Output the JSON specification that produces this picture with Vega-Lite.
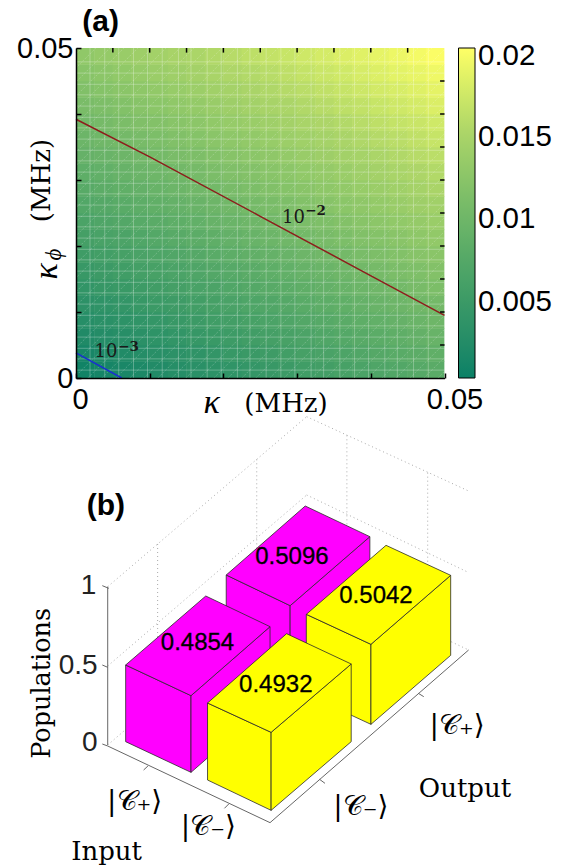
{"$schema":"https://vega.github.io/schema/vega-lite/v6.json","padding":{"left":16,"top":6,"right":0,"bottom":0},"autosize":{"type":"pad"},"background":"white","bounds":"flush","spacing":32,"config":{"view":{"stroke":null}},
"datasets":{
"heat":[
{"k":0.00125,"p":0.00125,"v":0.0005},{"k":0.00375,"p":0.00125,"v":0.0009},{"k":0.00625,"p":0.00125,"v":0.0013},{"k":0.00875,"p":0.00125,"v":0.0016},{"k":0.01125,"p":0.00125,"v":0.002},{"k":0.01375,"p":0.00125,"v":0.0024},{"k":0.01625,"p":0.00125,"v":0.0028},{"k":0.01875,"p":0.00125,"v":0.0032},{"k":0.02125,"p":0.00125,"v":0.0035},{"k":0.02375,"p":0.00125,"v":0.0039},{"k":0.02625,"p":0.00125,"v":0.0043},{"k":0.02875,"p":0.00125,"v":0.0047},{"k":0.03125,"p":0.00125,"v":0.0051},{"k":0.03375,"p":0.00125,"v":0.0054},{"k":0.03625,"p":0.00125,"v":0.0058},{"k":0.03875,"p":0.00125,"v":0.0062},{"k":0.04125,"p":0.00125,"v":0.0066},{"k":0.04375,"p":0.00125,"v":0.0069},{"k":0.04625,"p":0.00125,"v":0.0073},{"k":0.04875,"p":0.00125,"v":0.0077},
{"k":0.00125,"p":0.00375,"v":0.0011},{"k":0.00375,"p":0.00375,"v":0.0015},{"k":0.00625,"p":0.00375,"v":0.0019},{"k":0.00875,"p":0.00375,"v":0.0023},{"k":0.01125,"p":0.00375,"v":0.0027},{"k":0.01375,"p":0.00375,"v":0.003},{"k":0.01625,"p":0.00375,"v":0.0034},{"k":0.01875,"p":0.00375,"v":0.0038},{"k":0.02125,"p":0.00375,"v":0.0042},{"k":0.02375,"p":0.00375,"v":0.0045},{"k":0.02625,"p":0.00375,"v":0.0049},{"k":0.02875,"p":0.00375,"v":0.0053},{"k":0.03125,"p":0.00375,"v":0.0057},{"k":0.03375,"p":0.00375,"v":0.0061},{"k":0.03625,"p":0.00375,"v":0.0064},{"k":0.03875,"p":0.00375,"v":0.0068},{"k":0.04125,"p":0.00375,"v":0.0072},{"k":0.04375,"p":0.00375,"v":0.0076},{"k":0.04625,"p":0.00375,"v":0.0079},{"k":0.04875,"p":0.00375,"v":0.0083},
{"k":0.00125,"p":0.00625,"v":0.0018},{"k":0.00375,"p":0.00625,"v":0.0022},{"k":0.00625,"p":0.00625,"v":0.0025},{"k":0.00875,"p":0.00625,"v":0.0029},{"k":0.01125,"p":0.00625,"v":0.0033},{"k":0.01375,"p":0.00625,"v":0.0037},{"k":0.01625,"p":0.00625,"v":0.0041},{"k":0.01875,"p":0.00625,"v":0.0044},{"k":0.02125,"p":0.00625,"v":0.0048},{"k":0.02375,"p":0.00625,"v":0.0052},{"k":0.02625,"p":0.00625,"v":0.0056},{"k":0.02875,"p":0.00625,"v":0.0059},{"k":0.03125,"p":0.00625,"v":0.0063},{"k":0.03375,"p":0.00625,"v":0.0067},{"k":0.03625,"p":0.00625,"v":0.0071},{"k":0.03875,"p":0.00625,"v":0.0075},{"k":0.04125,"p":0.00625,"v":0.0078},{"k":0.04375,"p":0.00625,"v":0.0082},{"k":0.04625,"p":0.00625,"v":0.0086},{"k":0.04875,"p":0.00625,"v":0.009},
{"k":0.00125,"p":0.00875,"v":0.0024},{"k":0.00375,"p":0.00875,"v":0.0028},{"k":0.00625,"p":0.00875,"v":0.0032},{"k":0.00875,"p":0.00875,"v":0.0035},{"k":0.01125,"p":0.00875,"v":0.0039},{"k":0.01375,"p":0.00875,"v":0.0043},{"k":0.01625,"p":0.00875,"v":0.0047},{"k":0.01875,"p":0.00875,"v":0.0051},{"k":0.02125,"p":0.00875,"v":0.0054},{"k":0.02375,"p":0.00875,"v":0.0058},{"k":0.02625,"p":0.00875,"v":0.0062},{"k":0.02875,"p":0.00875,"v":0.0066},{"k":0.03125,"p":0.00875,"v":0.007},{"k":0.03375,"p":0.00875,"v":0.0073},{"k":0.03625,"p":0.00875,"v":0.0077},{"k":0.03875,"p":0.00875,"v":0.0081},{"k":0.04125,"p":0.00875,"v":0.0085},{"k":0.04375,"p":0.00875,"v":0.0088},{"k":0.04625,"p":0.00875,"v":0.0092},{"k":0.04875,"p":0.00875,"v":0.0096},
{"k":0.00125,"p":0.01125,"v":0.0031},{"k":0.00375,"p":0.01125,"v":0.0034},{"k":0.00625,"p":0.01125,"v":0.0038},{"k":0.00875,"p":0.01125,"v":0.0042},{"k":0.01125,"p":0.01125,"v":0.0046},{"k":0.01375,"p":0.01125,"v":0.0049},{"k":0.01625,"p":0.01125,"v":0.0053},{"k":0.01875,"p":0.01125,"v":0.0057},{"k":0.02125,"p":0.01125,"v":0.0061},{"k":0.02375,"p":0.01125,"v":0.0065},{"k":0.02625,"p":0.01125,"v":0.0068},{"k":0.02875,"p":0.01125,"v":0.0072},{"k":0.03125,"p":0.01125,"v":0.0076},{"k":0.03375,"p":0.01125,"v":0.008},{"k":0.03625,"p":0.01125,"v":0.0083},{"k":0.03875,"p":0.01125,"v":0.0087},{"k":0.04125,"p":0.01125,"v":0.0091},{"k":0.04375,"p":0.01125,"v":0.0095},{"k":0.04625,"p":0.01125,"v":0.0099},{"k":0.04875,"p":0.01125,"v":0.0102},
{"k":0.00125,"p":0.01375,"v":0.0037},{"k":0.00375,"p":0.01375,"v":0.0041},{"k":0.00625,"p":0.01375,"v":0.0044},{"k":0.00875,"p":0.01375,"v":0.0048},{"k":0.01125,"p":0.01375,"v":0.0052},{"k":0.01375,"p":0.01375,"v":0.0056},{"k":0.01625,"p":0.01375,"v":0.006},{"k":0.01875,"p":0.01375,"v":0.0063},{"k":0.02125,"p":0.01375,"v":0.0067},{"k":0.02375,"p":0.01375,"v":0.0071},{"k":0.02625,"p":0.01375,"v":0.0075},{"k":0.02875,"p":0.01375,"v":0.0078},{"k":0.03125,"p":0.01375,"v":0.0082},{"k":0.03375,"p":0.01375,"v":0.0086},{"k":0.03625,"p":0.01375,"v":0.009},{"k":0.03875,"p":0.01375,"v":0.0094},{"k":0.04125,"p":0.01375,"v":0.0097},{"k":0.04375,"p":0.01375,"v":0.0101},{"k":0.04625,"p":0.01375,"v":0.0105},{"k":0.04875,"p":0.01375,"v":0.0109},
{"k":0.00125,"p":0.01625,"v":0.0043},{"k":0.00375,"p":0.01625,"v":0.0047},{"k":0.00625,"p":0.01625,"v":0.0051},{"k":0.00875,"p":0.01625,"v":0.0055},{"k":0.01125,"p":0.01625,"v":0.0058},{"k":0.01375,"p":0.01625,"v":0.0062},{"k":0.01625,"p":0.01625,"v":0.0066},{"k":0.01875,"p":0.01625,"v":0.007},{"k":0.02125,"p":0.01625,"v":0.0073},{"k":0.02375,"p":0.01625,"v":0.0077},{"k":0.02625,"p":0.01625,"v":0.0081},{"k":0.02875,"p":0.01625,"v":0.0085},{"k":0.03125,"p":0.01625,"v":0.0089},{"k":0.03375,"p":0.01625,"v":0.0092},{"k":0.03625,"p":0.01625,"v":0.0096},{"k":0.03875,"p":0.01625,"v":0.01},{"k":0.04125,"p":0.01625,"v":0.0104},{"k":0.04375,"p":0.01625,"v":0.0108},{"k":0.04625,"p":0.01625,"v":0.0111},{"k":0.04875,"p":0.01625,"v":0.0115},
{"k":0.00125,"p":0.01875,"v":0.005},{"k":0.00375,"p":0.01875,"v":0.0053},{"k":0.00625,"p":0.01875,"v":0.0057},{"k":0.00875,"p":0.01875,"v":0.0061},{"k":0.01125,"p":0.01875,"v":0.0065},{"k":0.01375,"p":0.01875,"v":0.0068},{"k":0.01625,"p":0.01875,"v":0.0072},{"k":0.01875,"p":0.01875,"v":0.0076},{"k":0.02125,"p":0.01875,"v":0.008},{"k":0.02375,"p":0.01875,"v":0.0084},{"k":0.02625,"p":0.01875,"v":0.0087},{"k":0.02875,"p":0.01875,"v":0.0091},{"k":0.03125,"p":0.01875,"v":0.0095},{"k":0.03375,"p":0.01875,"v":0.0099},{"k":0.03625,"p":0.01875,"v":0.0102},{"k":0.03875,"p":0.01875,"v":0.0106},{"k":0.04125,"p":0.01875,"v":0.011},{"k":0.04375,"p":0.01875,"v":0.0114},{"k":0.04625,"p":0.01875,"v":0.0118},{"k":0.04875,"p":0.01875,"v":0.0121},
{"k":0.00125,"p":0.02125,"v":0.0056},{"k":0.00375,"p":0.02125,"v":0.006},{"k":0.00625,"p":0.02125,"v":0.0063},{"k":0.00875,"p":0.02125,"v":0.0067},{"k":0.01125,"p":0.02125,"v":0.0071},{"k":0.01375,"p":0.02125,"v":0.0075},{"k":0.01625,"p":0.02125,"v":0.0079},{"k":0.01875,"p":0.02125,"v":0.0082},{"k":0.02125,"p":0.02125,"v":0.0086},{"k":0.02375,"p":0.02125,"v":0.009},{"k":0.02625,"p":0.02125,"v":0.0094},{"k":0.02875,"p":0.02125,"v":0.0098},{"k":0.03125,"p":0.02125,"v":0.0101},{"k":0.03375,"p":0.02125,"v":0.0105},{"k":0.03625,"p":0.02125,"v":0.0109},{"k":0.03875,"p":0.02125,"v":0.0113},{"k":0.04125,"p":0.02125,"v":0.0116},{"k":0.04375,"p":0.02125,"v":0.012},{"k":0.04625,"p":0.02125,"v":0.0124},{"k":0.04875,"p":0.02125,"v":0.0128},
{"k":0.00125,"p":0.02375,"v":0.0062},{"k":0.00375,"p":0.02375,"v":0.0066},{"k":0.00625,"p":0.02375,"v":0.007},{"k":0.00875,"p":0.02375,"v":0.0074},{"k":0.01125,"p":0.02375,"v":0.0077},{"k":0.01375,"p":0.02375,"v":0.0081},{"k":0.01625,"p":0.02375,"v":0.0085},{"k":0.01875,"p":0.02375,"v":0.0089},{"k":0.02125,"p":0.02375,"v":0.0092},{"k":0.02375,"p":0.02375,"v":0.0096},{"k":0.02625,"p":0.02375,"v":0.01},{"k":0.02875,"p":0.02375,"v":0.0104},{"k":0.03125,"p":0.02375,"v":0.0108},{"k":0.03375,"p":0.02375,"v":0.0111},{"k":0.03625,"p":0.02375,"v":0.0115},{"k":0.03875,"p":0.02375,"v":0.0119},{"k":0.04125,"p":0.02375,"v":0.0123},{"k":0.04375,"p":0.02375,"v":0.0127},{"k":0.04625,"p":0.02375,"v":0.013},{"k":0.04875,"p":0.02375,"v":0.0134},
{"k":0.00125,"p":0.02625,"v":0.0069},{"k":0.00375,"p":0.02625,"v":0.0072},{"k":0.00625,"p":0.02625,"v":0.0076},{"k":0.00875,"p":0.02625,"v":0.008},{"k":0.01125,"p":0.02625,"v":0.0084},{"k":0.01375,"p":0.02625,"v":0.0087},{"k":0.01625,"p":0.02625,"v":0.0091},{"k":0.01875,"p":0.02625,"v":0.0095},{"k":0.02125,"p":0.02625,"v":0.0099},{"k":0.02375,"p":0.02625,"v":0.0103},{"k":0.02625,"p":0.02625,"v":0.0106},{"k":0.02875,"p":0.02625,"v":0.011},{"k":0.03125,"p":0.02625,"v":0.0114},{"k":0.03375,"p":0.02625,"v":0.0118},{"k":0.03625,"p":0.02625,"v":0.0122},{"k":0.03875,"p":0.02625,"v":0.0125},{"k":0.04125,"p":0.02625,"v":0.0129},{"k":0.04375,"p":0.02625,"v":0.0133},{"k":0.04625,"p":0.02625,"v":0.0137},{"k":0.04875,"p":0.02625,"v":0.014},
{"k":0.00125,"p":0.02875,"v":0.0075},{"k":0.00375,"p":0.02875,"v":0.0079},{"k":0.00625,"p":0.02875,"v":0.0083},{"k":0.00875,"p":0.02875,"v":0.0086},{"k":0.01125,"p":0.02875,"v":0.009},{"k":0.01375,"p":0.02875,"v":0.0094},{"k":0.01625,"p":0.02875,"v":0.0098},{"k":0.01875,"p":0.02875,"v":0.0101},{"k":0.02125,"p":0.02875,"v":0.0105},{"k":0.02375,"p":0.02875,"v":0.0109},{"k":0.02625,"p":0.02875,"v":0.0113},{"k":0.02875,"p":0.02875,"v":0.0117},{"k":0.03125,"p":0.02875,"v":0.012},{"k":0.03375,"p":0.02875,"v":0.0124},{"k":0.03625,"p":0.02875,"v":0.0128},{"k":0.03875,"p":0.02875,"v":0.0132},{"k":0.04125,"p":0.02875,"v":0.0135},{"k":0.04375,"p":0.02875,"v":0.0139},{"k":0.04625,"p":0.02875,"v":0.0143},{"k":0.04875,"p":0.02875,"v":0.0147},
{"k":0.00125,"p":0.03125,"v":0.0081},{"k":0.00375,"p":0.03125,"v":0.0085},{"k":0.00625,"p":0.03125,"v":0.0089},{"k":0.00875,"p":0.03125,"v":0.0093},{"k":0.01125,"p":0.03125,"v":0.0096},{"k":0.01375,"p":0.03125,"v":0.01},{"k":0.01625,"p":0.03125,"v":0.0104},{"k":0.01875,"p":0.03125,"v":0.0108},{"k":0.02125,"p":0.03125,"v":0.0112},{"k":0.02375,"p":0.03125,"v":0.0115},{"k":0.02625,"p":0.03125,"v":0.0119},{"k":0.02875,"p":0.03125,"v":0.0123},{"k":0.03125,"p":0.03125,"v":0.0127},{"k":0.03375,"p":0.03125,"v":0.013},{"k":0.03625,"p":0.03125,"v":0.0134},{"k":0.03875,"p":0.03125,"v":0.0138},{"k":0.04125,"p":0.03125,"v":0.0142},{"k":0.04375,"p":0.03125,"v":0.0146},{"k":0.04625,"p":0.03125,"v":0.0149},{"k":0.04875,"p":0.03125,"v":0.0153},
{"k":0.00125,"p":0.03375,"v":0.0088},{"k":0.00375,"p":0.03375,"v":0.0091},{"k":0.00625,"p":0.03375,"v":0.0095},{"k":0.00875,"p":0.03375,"v":0.0099},{"k":0.01125,"p":0.03375,"v":0.0103},{"k":0.01375,"p":0.03375,"v":0.0107},{"k":0.01625,"p":0.03375,"v":0.011},{"k":0.01875,"p":0.03375,"v":0.0114},{"k":0.02125,"p":0.03375,"v":0.0118},{"k":0.02375,"p":0.03375,"v":0.0122},{"k":0.02625,"p":0.03375,"v":0.0125},{"k":0.02875,"p":0.03375,"v":0.0129},{"k":0.03125,"p":0.03375,"v":0.0133},{"k":0.03375,"p":0.03375,"v":0.0137},{"k":0.03625,"p":0.03375,"v":0.0141},{"k":0.03875,"p":0.03375,"v":0.0144},{"k":0.04125,"p":0.03375,"v":0.0148},{"k":0.04375,"p":0.03375,"v":0.0152},{"k":0.04625,"p":0.03375,"v":0.0156},{"k":0.04875,"p":0.03375,"v":0.0159},
{"k":0.00125,"p":0.03625,"v":0.0094},{"k":0.00375,"p":0.03625,"v":0.0098},{"k":0.00625,"p":0.03625,"v":0.0102},{"k":0.00875,"p":0.03625,"v":0.0105},{"k":0.01125,"p":0.03625,"v":0.0109},{"k":0.01375,"p":0.03625,"v":0.0113},{"k":0.01625,"p":0.03625,"v":0.0117},{"k":0.01875,"p":0.03625,"v":0.0121},{"k":0.02125,"p":0.03625,"v":0.0124},{"k":0.02375,"p":0.03625,"v":0.0128},{"k":0.02625,"p":0.03625,"v":0.0132},{"k":0.02875,"p":0.03625,"v":0.0136},{"k":0.03125,"p":0.03625,"v":0.0139},{"k":0.03375,"p":0.03625,"v":0.0143},{"k":0.03625,"p":0.03625,"v":0.0147},{"k":0.03875,"p":0.03625,"v":0.0151},{"k":0.04125,"p":0.03625,"v":0.0155},{"k":0.04375,"p":0.03625,"v":0.0158},{"k":0.04625,"p":0.03625,"v":0.0162},{"k":0.04875,"p":0.03625,"v":0.0166},
{"k":0.00125,"p":0.03875,"v":0.01},{"k":0.00375,"p":0.03875,"v":0.0104},{"k":0.00625,"p":0.03875,"v":0.0108},{"k":0.00875,"p":0.03875,"v":0.0112},{"k":0.01125,"p":0.03875,"v":0.0115},{"k":0.01375,"p":0.03875,"v":0.0119},{"k":0.01625,"p":0.03875,"v":0.0123},{"k":0.01875,"p":0.03875,"v":0.0127},{"k":0.02125,"p":0.03875,"v":0.0131},{"k":0.02375,"p":0.03875,"v":0.0134},{"k":0.02625,"p":0.03875,"v":0.0138},{"k":0.02875,"p":0.03875,"v":0.0142},{"k":0.03125,"p":0.03875,"v":0.0146},{"k":0.03375,"p":0.03875,"v":0.0149},{"k":0.03625,"p":0.03875,"v":0.0153},{"k":0.03875,"p":0.03875,"v":0.0157},{"k":0.04125,"p":0.03875,"v":0.0161},{"k":0.04375,"p":0.03875,"v":0.0165},{"k":0.04625,"p":0.03875,"v":0.0168},{"k":0.04875,"p":0.03875,"v":0.0172},
{"k":0.00125,"p":0.04125,"v":0.0107},{"k":0.00375,"p":0.04125,"v":0.011},{"k":0.00625,"p":0.04125,"v":0.0114},{"k":0.00875,"p":0.04125,"v":0.0118},{"k":0.01125,"p":0.04125,"v":0.0122},{"k":0.01375,"p":0.04125,"v":0.0126},{"k":0.01625,"p":0.04125,"v":0.0129},{"k":0.01875,"p":0.04125,"v":0.0133},{"k":0.02125,"p":0.04125,"v":0.0137},{"k":0.02375,"p":0.04125,"v":0.0141},{"k":0.02625,"p":0.04125,"v":0.0145},{"k":0.02875,"p":0.04125,"v":0.0148},{"k":0.03125,"p":0.04125,"v":0.0152},{"k":0.03375,"p":0.04125,"v":0.0156},{"k":0.03625,"p":0.04125,"v":0.016},{"k":0.03875,"p":0.04125,"v":0.0163},{"k":0.04125,"p":0.04125,"v":0.0167},{"k":0.04375,"p":0.04125,"v":0.0171},{"k":0.04625,"p":0.04125,"v":0.0175},{"k":0.04875,"p":0.04125,"v":0.0179},
{"k":0.00125,"p":0.04375,"v":0.0113},{"k":0.00375,"p":0.04375,"v":0.0117},{"k":0.00625,"p":0.04375,"v":0.0121},{"k":0.00875,"p":0.04375,"v":0.0124},{"k":0.01125,"p":0.04375,"v":0.0128},{"k":0.01375,"p":0.04375,"v":0.0132},{"k":0.01625,"p":0.04375,"v":0.0136},{"k":0.01875,"p":0.04375,"v":0.014},{"k":0.02125,"p":0.04375,"v":0.0143},{"k":0.02375,"p":0.04375,"v":0.0147},{"k":0.02625,"p":0.04375,"v":0.0151},{"k":0.02875,"p":0.04375,"v":0.0155},{"k":0.03125,"p":0.04375,"v":0.0158},{"k":0.03375,"p":0.04375,"v":0.0162},{"k":0.03625,"p":0.04375,"v":0.0166},{"k":0.03875,"p":0.04375,"v":0.017},{"k":0.04125,"p":0.04375,"v":0.0174},{"k":0.04375,"p":0.04375,"v":0.0177},{"k":0.04625,"p":0.04375,"v":0.0181},{"k":0.04875,"p":0.04375,"v":0.0185},
{"k":0.00125,"p":0.04625,"v":0.0119},{"k":0.00375,"p":0.04625,"v":0.0123},{"k":0.00625,"p":0.04625,"v":0.0127},{"k":0.00875,"p":0.04625,"v":0.0131},{"k":0.01125,"p":0.04625,"v":0.0135},{"k":0.01375,"p":0.04625,"v":0.0138},{"k":0.01625,"p":0.04625,"v":0.0142},{"k":0.01875,"p":0.04625,"v":0.0146},{"k":0.02125,"p":0.04625,"v":0.015},{"k":0.02375,"p":0.04625,"v":0.0153},{"k":0.02625,"p":0.04625,"v":0.0157},{"k":0.02875,"p":0.04625,"v":0.0161},{"k":0.03125,"p":0.04625,"v":0.0165},{"k":0.03375,"p":0.04625,"v":0.0169},{"k":0.03625,"p":0.04625,"v":0.0172},{"k":0.03875,"p":0.04625,"v":0.0176},{"k":0.04125,"p":0.04625,"v":0.018},{"k":0.04375,"p":0.04625,"v":0.0184},{"k":0.04625,"p":0.04625,"v":0.0187},{"k":0.04875,"p":0.04625,"v":0.0191},
{"k":0.00125,"p":0.04875,"v":0.0126},{"k":0.00375,"p":0.04875,"v":0.013},{"k":0.00625,"p":0.04875,"v":0.0133},{"k":0.00875,"p":0.04875,"v":0.0137},{"k":0.01125,"p":0.04875,"v":0.0141},{"k":0.01375,"p":0.04875,"v":0.0145},{"k":0.01625,"p":0.04875,"v":0.0148},{"k":0.01875,"p":0.04875,"v":0.0152},{"k":0.02125,"p":0.04875,"v":0.0156},{"k":0.02375,"p":0.04875,"v":0.016},{"k":0.02625,"p":0.04875,"v":0.0164},{"k":0.02875,"p":0.04875,"v":0.0167},{"k":0.03125,"p":0.04875,"v":0.0171},{"k":0.03375,"p":0.04875,"v":0.0175},{"k":0.03625,"p":0.04875,"v":0.0179},{"k":0.03875,"p":0.04875,"v":0.0182},{"k":0.04125,"p":0.04875,"v":0.0186},{"k":0.04375,"p":0.04875,"v":0.019},{"k":0.04625,"p":0.04875,"v":0.0194},{"k":0.04875,"p":0.04875,"v":0.0198}],
"mv":[{"m":0.0019},{"m":0.0039},{"m":0.0058},{"m":0.0078},{"m":0.0097},{"m":0.0117},{"m":0.0139},{"m":0.0156},{"m":0.0178},{"m":0.0197},{"m":0.0219},{"m":0.0236},{"m":0.0258},{"m":0.0278},{"m":0.0297},{"m":0.0319},{"m":0.0336},{"m":0.0358},{"m":0.0378},{"m":0.0397},{"m":0.0419},{"m":0.0436},{"m":0.0458},{"m":0.0478}],
"mh":[{"m":0.0012},{"m":0.0029},{"m":0.0045},{"m":0.0062},{"m":0.0079},{"m":0.0095},{"m":0.0112},{"m":0.0129},{"m":0.0145},{"m":0.0162},{"m":0.0179},{"m":0.0195},{"m":0.0212},{"m":0.0229},{"m":0.0245},{"m":0.0262},{"m":0.0279},{"m":0.0295},{"m":0.0312},{"m":0.0329},{"m":0.0345},{"m":0.0362},{"m":0.0379},{"m":0.0395},{"m":0.0412},{"m":0.0429},{"m":0.0445},{"m":0.0462},{"m":0.0479}],
"diag":[{"c":-0.044,"d":0.0008},{"c":-0.0421,"d":0.0027},{"c":-0.0402,"d":0.0046},{"c":-0.0383,"d":0.0065},{"c":-0.0364,"d":0.0084},{"c":-0.0345,"d":0.0103},{"c":-0.0326,"d":0.0122},{"c":-0.0307,"d":0.0141},{"c":-0.0288,"d":0.016},{"c":-0.0269,"d":0.0179},{"c":-0.025,"d":0.0198},{"c":-0.0231,"d":0.0217},{"c":-0.0212,"d":0.0236},{"c":-0.0193,"d":0.0255},{"c":-0.0174,"d":0.0274},{"c":-0.0155,"d":0.0293},{"c":-0.0136,"d":0.0312},{"c":-0.0117,"d":0.0331},{"c":-0.0098,"d":0.035},{"c":-0.0079,"d":0.0369},{"c":-0.006,"d":0.0388},{"c":-0.0041,"d":0.0407},{"c":-0.0022,"d":0.0426},{"c":-0.0003,"d":0.0445},{"c":0.0016,"d":0.0464},{"c":0.0035,"d":0.0483},{"c":0.0054,"d":0.0502},{"c":0.0073,"d":0.0521},{"c":0.0092,"d":0.054},{"c":0.0111,"d":0.0559},{"c":0.013,"d":0.0578},{"c":0.0149,"d":0.0597},{"c":0.0168,"d":0.0616},{"c":0.0187,"d":0.0635},{"c":0.0206,"d":0.0654},{"c":0.0225,"d":0.0673},{"c":0.0244,"d":0.0692},{"c":0.0263,"d":0.0711},{"c":0.0282,"d":0.073},{"c":0.0301,"d":0.0749},{"c":0.032,"d":0.0768},{"c":0.0339,"d":0.0787},{"c":0.0358,"d":0.0806},{"c":0.0377,"d":0.0825},{"c":0.0396,"d":0.0844},{"c":0.0415,"d":0.0863},{"c":0.0434,"d":0.0882},{"c":0.0453,"d":0.0901},{"c":0.0472,"d":0.092},{"c":0.0491,"d":0.0939}],
"ticks":[{"t":0.005},{"t":0.01},{"t":0.015},{"t":0.02},{"t":0.025},{"t":0.03},{"t":0.035},{"t":0.04},{"t":0.045}],
"cbt":[{"p":0.0125},{"p":0.025},{"p":0.0375}],
"red":[{"k":0,"p":0.0392,"i":0},{"k":0.01,"p":0.0335,"i":1},{"k":0.025,"p":0.0245,"i":2},{"k":0.0375,"p":0.017,"i":3},{"k":0.05,"p":0.0095,"i":4}],
"blue":[{"k":0,"p":0.0038,"i":0},{"k":0.0062,"p":0,"i":1}],
"faces":[
{"f":"01","c":"Input +","u":630,"v":465,"i":0},{"f":"01","c":"Input +","u":808,"v":557,"i":1},{"f":"01","c":"Input +","u":808,"v":797,"i":2},{"f":"01","c":"Input +","u":630,"v":705,"i":3},{"f":"01","c":"Input +","u":630,"v":465,"i":4},
{"f":"02","c":"Input +","u":808,"v":557,"i":0},{"f":"02","c":"Input +","u":1030,"v":350,"i":1},{"f":"02","c":"Input +","u":1030,"v":590,"i":2},{"f":"02","c":"Input +","u":808,"v":797,"i":3},{"f":"02","c":"Input +","u":808,"v":557,"i":4},
{"f":"03","c":"Input +","u":630,"v":465,"i":0},{"f":"03","c":"Input +","u":808,"v":557,"i":1},{"f":"03","c":"Input +","u":1030,"v":350,"i":2},{"f":"03","c":"Input +","u":850,"v":258,"i":3},{"f":"03","c":"Input +","u":630,"v":465,"i":4},
{"f":"04","c":"Input +","u":350,"v":735,"i":0},{"f":"04","c":"Input +","u":532,"v":827,"i":1},{"f":"04","c":"Input +","u":532,"v":1057,"i":2},{"f":"04","c":"Input +","u":350,"v":965,"i":3},{"f":"04","c":"Input +","u":350,"v":735,"i":4},
{"f":"05","c":"Input +","u":532,"v":827,"i":0},{"f":"05","c":"Input +","u":752,"v":620,"i":1},{"f":"05","c":"Input +","u":752,"v":850,"i":2},{"f":"05","c":"Input +","u":532,"v":1057,"i":3},{"f":"05","c":"Input +","u":532,"v":827,"i":4},
{"f":"06","c":"Input +","u":350,"v":735,"i":0},{"f":"06","c":"Input +","u":532,"v":827,"i":1},{"f":"06","c":"Input +","u":752,"v":620,"i":2},{"f":"06","c":"Input +","u":573,"v":528,"i":3},{"f":"06","c":"Input +","u":350,"v":735,"i":4},
{"f":"07","c":"Input -","u":853,"v":583,"i":0},{"f":"07","c":"Input -","u":1033,"v":673,"i":1},{"f":"07","c":"Input -","u":1033,"v":913,"i":2},{"f":"07","c":"Input -","u":853,"v":823,"i":3},{"f":"07","c":"Input -","u":853,"v":583,"i":4},
{"f":"08","c":"Input -","u":1033,"v":673,"i":0},{"f":"08","c":"Input -","u":1255,"v":466,"i":1},{"f":"08","c":"Input -","u":1255,"v":706,"i":2},{"f":"08","c":"Input -","u":1033,"v":913,"i":3},{"f":"08","c":"Input -","u":1033,"v":673,"i":4},
{"f":"09","c":"Input -","u":853,"v":583,"i":0},{"f":"09","c":"Input -","u":1033,"v":673,"i":1},{"f":"09","c":"Input -","u":1255,"v":466,"i":2},{"f":"09","c":"Input -","u":1075,"v":376,"i":3},{"f":"09","c":"Input -","u":853,"v":583,"i":4},
{"f":"10","c":"Input -","u":578,"v":849,"i":0},{"f":"10","c":"Input -","u":755,"v":937,"i":1},{"f":"10","c":"Input -","u":755,"v":1171,"i":2},{"f":"10","c":"Input -","u":578,"v":1080,"i":3},{"f":"10","c":"Input -","u":578,"v":849,"i":4},
{"f":"11","c":"Input -","u":755,"v":937,"i":0},{"f":"11","c":"Input -","u":978,"v":732,"i":1},{"f":"11","c":"Input -","u":978,"v":965,"i":2},{"f":"11","c":"Input -","u":755,"v":1171,"i":3},{"f":"11","c":"Input -","u":755,"v":937,"i":4},
{"f":"12","c":"Input -","u":578,"v":849,"i":0},{"f":"12","c":"Input -","u":755,"v":937,"i":1},{"f":"12","c":"Input -","u":978,"v":732,"i":2},{"f":"12","c":"Input -","u":798,"v":641,"i":3},{"f":"12","c":"Input -","u":578,"v":849,"i":4}],
"dotted":[{"u":300,"v":500,"u2":854,"v2":-10},{"u":854,"v":-10,"u2":1309,"v2":215},{"u":300,"v":738,"u2":854,"v2":225},{"u":854,"v":225,"u2":1300,"v2":455},{"u":300,"v":975,"u2":854,"v2":460},{"u":854,"v":460,"u2":1305,"v2":690},{"u":439,"v":372,"u2":439,"v2":846},{"u":715,"v":118,"u2":715,"v2":589},{"u":966,"v":46,"u2":966,"v2":517},{"u":1191,"v":158,"u2":1191,"v2":632}],
"solid":[{"u":300,"v":500,"u2":300,"v2":975},{"u":285,"v":497,"u2":303,"v2":505},{"u":285,"v":735,"u2":300,"v2":742},{"u":285,"v":972,"u2":300,"v2":978},{"u":300,"v":978,"u2":752,"v2":1208},{"u":752,"v":1208,"u2":1305,"v2":690},{"u":400,"v":1050,"u2":412,"v2":1038},{"u":625,"v":1165,"u2":637,"v2":1152},{"u":890,"v":1078,"u2":905,"v2":1090},{"u":1165,"v":820,"u2":1180,"v2":830}]
},
"vconcat":[
{"width":368.5,"height":330,
"encoding":{"x":{"type":"quantitative","scale":{"domain":[0,0.05],"nice":false,"zero":false}},"y":{"type":"quantitative","scale":{"domain":[0,0.05],"nice":false,"zero":false}}},
"layer":[
{"data":{"name":"heat"},"mark":{"type":"rect","width":18.9,"height":17,"clip":true},"encoding":{"x":{"field":"k","type":"quantitative","scale":{"domain":[0,0.05],"nice":false,"zero":false},
"axis":{"title":"(MHz)","titleFont":"DejaVu Serif","titleFontSize":26,"titleFontWeight":"normal","titleColor":"black","titleX":209.5,"titleY":25,"titleBaseline":"middle","values":[0,0.005,0.01,0.015,0.02,0.025,0.03,0.035,0.04,0.045,0.05],"labelExpr":"datum.value==0||datum.value==0.05?datum.label:''","format":".2~f","labelFont":"Liberation Sans","labelFontSize":29,"labelColor":"black","labelOverlap":false,"labelFlush":false,"labelOffset":{"condition":{"test":"datum.value==0","value":4},"value":10},"labelPadding":12,"tickSize":-5,"tickColor":"black","tickWidth":1.5,"domainColor":"black","domainWidth":1.5,"grid":false,"zindex":1}},
"y":{"field":"p","type":"quantitative","scale":{"domain":[0,0.05],"nice":false,"zero":false},
"axis":{"title":"(MHz)","titleFont":"DejaVu Serif","titleFontSize":26,"titleFontWeight":"normal","titleColor":"black","titleX":-35,"titleY":132,"titleBaseline":"middle","values":[0,0.005,0.01,0.015,0.02,0.025,0.03,0.035,0.04,0.045,0.05],"labelExpr":"datum.value==0||datum.value==0.05?datum.label:''","format":".2~f","labelFont":"Liberation Sans","labelFontSize":29,"labelColor":"black","labelOverlap":false,"labelFlush":false,"labelPadding":8,"tickSize":-5,"tickColor":"black","tickWidth":1.5,"domainColor":"black","domainWidth":1.5,"grid":false,"zindex":1}},
"color":{"field":"v","type":"quantitative","scale":{"domain":[0,0.005,0.01,0.015,0.02],"range":["#0a8066","#3f9c66","#72b868","#aed668","#ffff66"]},"legend":{"title":null,"orient":"none","legendX":382.5,"legendY":0,"direction":"vertical","gradientLength":330,"gradientThickness":16.5,"values":[0.005,0.01,0.015,0.02],"format":".3~f","labelFont":"Liberation Sans","labelFontSize":29.5,"labelColor":"black","labelOverlap":false,"labelOffset":3,"gradientStrokeColor":"black","gradientStrokeWidth":1,"encoding":{"labels":{"dy":{"condition":{"test":"datum.value>=0.02","value":-6},"value":6}}}}}}},
{"data":{"name":"mv"},"mark":{"type":"rule","stroke":"white","strokeOpacity":0.28,"strokeWidth":1},"encoding":{"x":{"field":"m"}}},
{"data":{"name":"mh"},"mark":{"type":"rule","stroke":"white","strokeOpacity":0.28,"strokeWidth":1},"encoding":{"y":{"field":"m"}}},
{"data":{"name":"diag"},"mark":{"type":"rule","stroke":"white","strokeOpacity":0.28,"strokeWidth":0.8,"strokeDash":[2,1.5],"clip":true},"encoding":{"x":{"field":"c"},"x2":{"field":"d"},"y":{"datum":0},"y2":{"datum":0.05}}},
{"data":{"name":"red"},"mark":{"type":"line","stroke":"#8e1c1c","strokeWidth":1.5},"encoding":{"x":{"field":"k"},"y":{"field":"p"},"order":{"field":"i"}}},
{"data":{"name":"blue"},"mark":{"type":"line","stroke":"#1a2fd0","strokeWidth":1.5},"encoding":{"x":{"field":"k"},"y":{"field":"p"},"order":{"field":"i"}}},
{"mark":{"type":"rule","stroke":"black","strokeWidth":1.5},"encoding":{"y":{"datum":0.05}}},
{"mark":{"type":"rule","stroke":"black","strokeWidth":1.5},"encoding":{"x":{"datum":0.05}}},
{"data":{"name":"ticks"},"mark":{"type":"rule","stroke":"black","strokeWidth":1.5},"encoding":{"x":{"field":"t"},"y":{"datum":0.05},"y2":{"datum":0.0493}}},
{"data":{"name":"ticks"},"mark":{"type":"rule","stroke":"black","strokeWidth":1.5},"encoding":{"y":{"field":"t"},"x":{"datum":0.05},"x2":{"datum":0.0494}}},
{"data":{"name":"cbt"},"mark":{"type":"rule","stroke":"black","strokeWidth":1},"encoding":{"y":{"field":"p"},"x":{"datum":0.0536},"x2":{"datum":0.0541}}},
{"data":{"values":[{"k":0.00335,"p":0.05395,"t":"(a)"}]},"mark":{"type":"text","font":"Liberation Sans","fontWeight":"bold","fontSize":30,"color":"black"},"encoding":{"x":{"field":"k"},"y":{"field":"p"},"text":{"field":"t"}}},
{"data":{"values":[{"k":0.0295,"p":0.02424,"t":"10"},{"k":0.00408,"p":0.00389,"t":"10"}]},"mark":{"type":"text","font":"DejaVu Serif","fontSize":18,"color":"#1a1a1a"},"encoding":{"x":{"field":"k"},"y":{"field":"p"},"text":{"field":"t"}}},
{"data":{"values":[{"k":0.0325,"p":0.02525,"t":"−2"},{"k":0.00714,"p":0.0047,"t":"−3"}]},"mark":{"type":"text","font":"DejaVu Serif","fontSize":13.5,"fontWeight":"bold","color":"#1a1a1a"},"encoding":{"x":{"field":"k"},"y":{"field":"p"},"text":{"field":"t"}}},
{"data":{"values":[{"k":0.01842,"p":-0.0038,"t":"κ","a":0},{"k":-0.00394,"p":0.01616,"t":"κ","a":270}]},"mark":{"type":"text","font":"Liberation Serif","fontStyle":"italic","fontSize":34,"color":"black"},"encoding":{"x":{"field":"k"},"y":{"field":"p"},"text":{"field":"t"},"angle":{"field":"a","type":"quantitative","scale":null}}},
{"data":{"values":[{"k":-0.00296,"p":0.01869,"t":"ϕ"}]},"mark":{"type":"text","font":"Liberation Serif","fontStyle":"italic","fontSize":23,"angle":270,"color":"black"},"encoding":{"x":{"field":"k"},"y":{"field":"p"},"text":{"field":"t"}}}
]},
{"width":486,"height":456,
"encoding":{"x":{"field":"u","type":"quantitative","axis":null,"scale":{"domain":[211.7,1565],"nice":false,"zero":false}},"y":{"field":"v","type":"quantitative","axis":null,"scale":{"domain":[1338,-30],"nice":false,"zero":false}}},
"layer":[
{"data":{"name":"dotted"},"mark":{"type":"rule","stroke":"#aaaaaa","strokeWidth":1,"strokeDash":[1,3]},"encoding":{"x2":{"field":"u2"},"y2":{"field":"v2"}}},
{"data":{"name":"solid"},"mark":{"type":"rule","stroke":"#666666","strokeWidth":1},"encoding":{"x2":{"field":"u2"},"y2":{"field":"v2"}}},
{"data":{"name":"faces"},"mark":{"type":"line","stroke":"#2a2a2a","strokeWidth":0.8},"encoding":{"fill":{"field":"c","type":"nominal","legend":null,"scale":{"domain":["Input +","Input -"],"range":["#ff00ff","#ffff00"]}},"detail":{"field":"f"},"order":{"field":"i"}}},
{"data":{"values":[{"u":550,"v":670,"pop":0.4854},{"u":768,"v":795,"pop":0.4932},{"u":813,"v":410,"pop":0.5096},{"u":1047,"v":528,"pop":0.5042}]},"mark":{"type":"text","font":"Liberation Sans","fontSize":24,"color":"black","stroke":"black","strokeWidth":0.3},"encoding":{"text":{"field":"pop","type":"quantitative","format":".4f"}}},
{"data":{"values":[{"u":268,"v":497,"t":"1"},{"u":272,"v":738,"t":"0.5"},{"u":272,"v":970,"t":"0"}]},"mark":{"type":"text","font":"Liberation Sans","fontSize":28,"align":"right","color":"#222222"},"encoding":{"text":{"field":"t"}}},
{"data":{"values":[{"u":295,"v":258,"t":"(b)"}]},"mark":{"type":"text","font":"Liberation Sans","fontWeight":"bold","fontSize":30,"color":"black"},"encoding":{"text":{"field":"t"}}},
{"data":{"values":[{"u":118,"v":790,"t":"Populations"}]},"mark":{"type":"text","font":"DejaVu Serif","fontSize":25.5,"angle":270,"color":"black"},"encoding":{"text":{"field":"t"}}},
{"data":{"values":[{"u":297,"v":1295,"t":"Input"},{"u":1295,"v":1107,"t":"Output"}]},"mark":{"type":"text","font":"DejaVu Serif","fontSize":26,"color":"black"},"encoding":{"text":{"field":"t"}}},
{"data":{"values":[{"u":375,"v":1145,"t":"|𝒞₊⟩"},{"u":580,"v":1222,"t":"|𝒞₋⟩"},{"u":1005,"v":1160,"t":"|𝒞₋⟩"},{"u":1273,"v":917,"t":"|𝒞₊⟩"}]},"mark":{"type":"text","font":"DejaVu Serif","fontSize":28,"color":"black"},"encoding":{"text":{"field":"t"}}}
]}
]}
